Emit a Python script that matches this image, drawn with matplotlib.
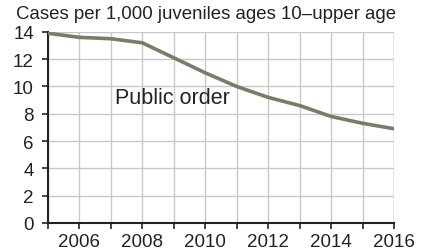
import matplotlib
matplotlib.use("Agg")
import matplotlib.pyplot as plt

# 每千名少年的公共秩序案件數
years = [2005, 2006, 2007, 2008, 2009, 2010, 2011, 2012, 2013, 2014, 2015, 2016]
rates = [13.9, 13.6, 13.5, 13.2, 12.1, 11.0, 10.0, 9.2, 8.6, 7.8, 7.3, 6.9]
year_labels = [2006, 2008, 2010, 2012, 2014, 2016]
y_ticks = [0, 2, 4, 6, 8, 10, 12, 14]

plt.rcParams["font.family"] = ["Liberation Sans", "DejaVu Sans"]

fig = plt.figure(figsize=(4.35, 2.53), dpi=100)
ax = fig.add_axes([0.110, 0.115, 0.796, 0.755])

ax.plot(years, rates, color="#7b7b68", lw=2.6, solid_capstyle="butt", zorder=3)

ax.set_xlim(2005, 2016)
ax.set_ylim(0, 14)
ax.set_xticks(years)
ax.set_xticklabels([str(y) if y in year_labels else "" for y in years])
ax.set_yticks(y_ticks)
ax.grid(True, color="#c8c8c8", lw=1, zorder=0)
ax.set_axisbelow(True)

for side in ("top", "right"):
    ax.spines[side].set_visible(False)
for side in ("left", "bottom"):
    ax.spines[side].set_color("#222222")
    ax.spines[side].set_linewidth(1.5)
ax.tick_params(axis="both", labelsize=13.5, colors="#222222", length=4, width=1.2)
ax.tick_params(axis="y", pad=6)
ax.tick_params(axis="x", pad=3)

# 右邊界的淺灰線
ax.axvline(2016, color="#c8c8c8", lw=1, zorder=0)

ax.text(2007.13, 9.2, "Public order", fontsize=15.5, color="#222222", va="center")
fig.text(0.037, 0.975, "Cases per 1,000 juveniles ages 10\u2013upper age",
         fontsize=13.4, color="#222222", va="top", ha="left")

fig.savefig("out.png", dpi=100)
